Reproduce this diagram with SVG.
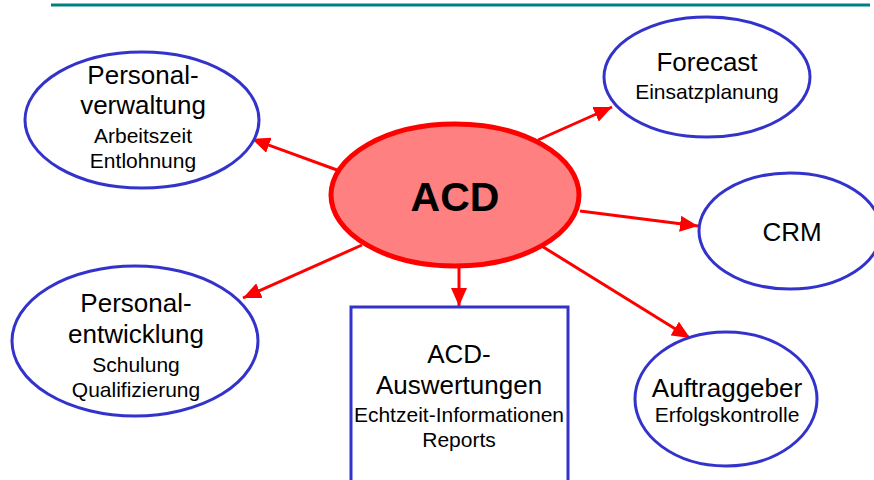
<svg xmlns="http://www.w3.org/2000/svg" width="874" height="480" viewBox="0 0 874 480">
<defs>
<style>
.node{fill:#fff;stroke:#3333CC;stroke-width:3}
.t1{font-family:"Liberation Sans",Arial,sans-serif;font-size:26px;fill:#000;text-anchor:middle}
.t2{font-family:"Liberation Sans",Arial,sans-serif;font-size:21px;fill:#000;text-anchor:middle}
.conn{stroke:#FF0000;stroke-width:3;fill:none;marker-end:url(#ah)}
</style>
<marker id="ah" markerUnits="userSpaceOnUse" markerWidth="18" markerHeight="16" refX="18" refY="8" orient="auto">
<path d="M0,0 L18,8 L0,16 z" fill="#FF0000"/>
</marker>
</defs>
<rect width="874" height="480" fill="#fff"/>
<line x1="51" y1="5" x2="870" y2="5" stroke="#008080" stroke-width="3"/>
<g id="connectors">
<line class="conn" x1="337" y1="170" x2="252" y2="139"/>
<line class="conn" x1="538" y1="140" x2="612" y2="107"/>
<line class="conn" x1="580" y1="211" x2="698" y2="226"/>
<line class="conn" x1="362" y1="245" x2="243" y2="298"/>
<line class="conn" x1="459" y1="268" x2="459" y2="306"/>
<line class="conn" x1="540" y1="245" x2="690" y2="338"/>
</g>
<g id="acd">
<ellipse cx="455" cy="195" rx="124" ry="71" fill="#FF8080" stroke="#FF0000" stroke-width="5"/>
<text x="455" y="211" font-family="Liberation Sans,Arial,sans-serif" font-size="41" font-weight="bold" text-anchor="middle">ACD</text>
</g>
<g id="personalverwaltung">
<ellipse class="node" cx="142" cy="120" rx="117" ry="68"/>
<text class="t1" x="143" y="84">Personal-</text>
<text class="t1" x="143" y="114">verwaltung</text>
<text class="t2" x="143" y="143">Arbeitszeit</text>
<text class="t2" x="143" y="168">Entlohnung</text>
</g>
<g id="forecast">
<ellipse class="node" cx="707" cy="77" rx="103" ry="60"/>
<text class="t1" x="707" y="71">Forecast</text>
<text class="t2" x="707" y="99">Einsatzplanung</text>
</g>
<g id="crm">
<ellipse class="node" cx="790" cy="231" rx="91" ry="58"/>
<text class="t1" x="792" y="241">CRM</text>
</g>
<g id="personalentwicklung">
<ellipse class="node" cx="135" cy="341" rx="123" ry="75"/>
<text class="t1" x="136" y="312">Personal-</text>
<text class="t1" x="136" y="343">entwicklung</text>
<text class="t2" x="136" y="372">Schulung</text>
<text class="t2" x="136" y="397">Qualifizierung</text>
</g>
<g id="auswertungen">
<rect class="node" x="351" y="307" width="217" height="190"/>
<text class="t1" x="459" y="363">ACD-</text>
<text class="t1" x="459" y="394">Auswertungen</text>
<text class="t2" x="459" y="422">Echtzeit-Informationen</text>
<text class="t2" x="459" y="447">Reports</text>
</g>
<g id="auftraggeber">
<ellipse class="node" cx="726" cy="399" rx="91" ry="67"/>
<text class="t1" x="727" y="397">Auftraggeber</text>
<text class="t2" x="727" y="422">Erfolgskontrolle</text>
</g>
</svg>
